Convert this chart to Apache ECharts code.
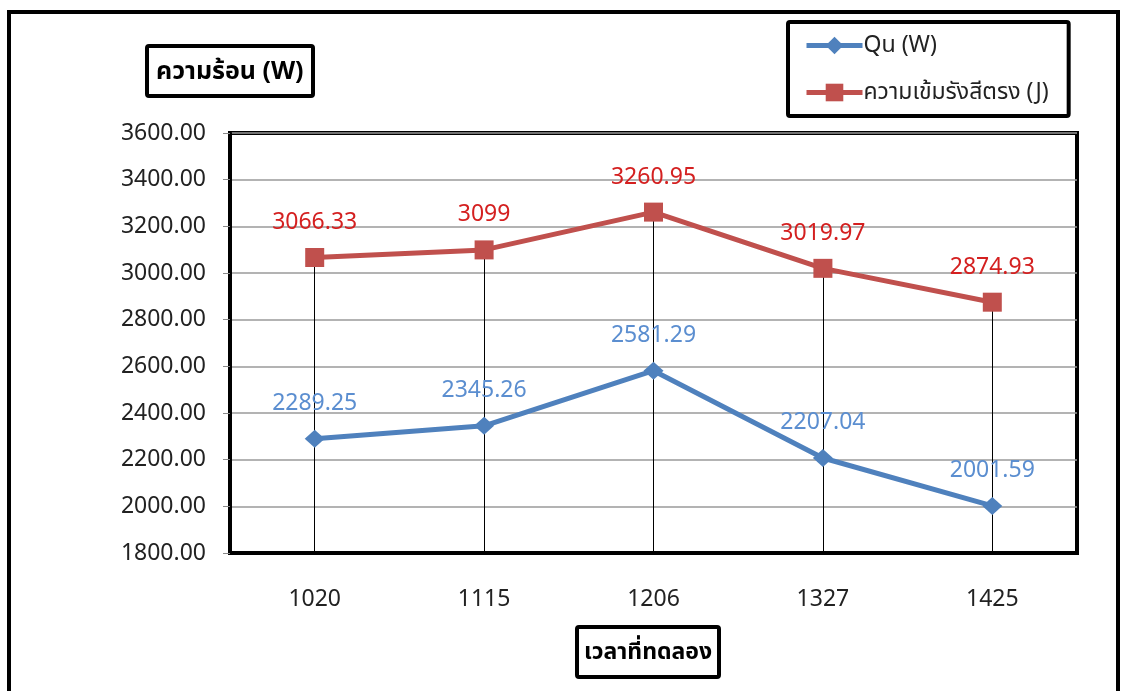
<!DOCTYPE html>
<html>
<head>
<meta charset="utf-8">
<script src="https://cdn.jsdelivr.net/npm/echarts@6/dist/echarts.min.js"></script>
<style>
  html, body { margin: 0; padding: 0; background: #fff; }
  #chart { width: 1121px; height: 691px; }
</style>
</head>
<body>
<div id="chart"></div>
<script>
// Measurement times (x categories)
const times = ['1020', '1115', '1206', '1327', '1425'];
// Useful heat gain Qu (W)
const quValues = [2289.25, 2345.26, 2581.29, 2207.04, 2001.59];
// Direct radiation intensity (J)
const radValues = [3066.33, 3099, 3260.95, 3019.97, 2874.93];
// Y axis range
const yMin = 1800, yMax = 3600, yStep = 200;

const quName = 'Qu (W)';
const radName = 'ความเข้มรังสีตรง (J)';
const yTitle = 'ความร้อน (W)';
const xTitle = 'เวลาที่ทดลอง';

const FONT = "'Noto Sans', 'Noto Sans Thai', 'DejaVu Sans', sans-serif";

const chart = echarts.init(document.getElementById('chart'), null, { renderer: 'canvas' });

// Drop lines from each upper point down to the axis floor
const dropLines = radValues.map((v, i) => [
  { coord: [i, v] },
  { coord: [i, yMin] }
]);

chart.setOption({
  backgroundColor: '#fff',
  animation: false,
  textStyle: { fontFamily: FONT },
  graphic: [
    {
      type: 'rect',
      shape: { x: 9, y: 12, width: 1109, height: 700 },
      style: { fill: 'none', stroke: '#000', lineWidth: 4 },
      z: 0
    }
  ],
  title: [
    {
      text: yTitle,
      left: 147, top: 46,
      padding: [13, 10, 12, 9],
      borderColor: '#000', borderWidth: 4, borderRadius: 2,
      textStyle: { fontFamily: FONT, fontSize: 25, fontWeight: 'bold', color: '#000' }
    },
    {
      text: xTitle,
      left: 577, top: 627,
      padding: [14, 7, 13, 7],
      borderColor: '#000', borderWidth: 4, borderRadius: 2,
      textStyle: { fontFamily: FONT, fontSize: 23, fontWeight: 'bold', color: '#000' }
    }
  ],
  legend: {
    orient: 'vertical',
    left: 788, top: 22,
    padding: [12, 20, 12, 16],
    itemGap: 24,
    itemWidth: 56, itemHeight: 22,
    borderColor: '#000', borderWidth: 4, borderRadius: 2,
    lineStyle: { width: 5 },
    textStyle: { fontFamily: FONT, fontSize: 23, color: '#222', padding: [0, 0, 0, -4] },
    data: [quName, radName]
  },
  grid: {
    left: 230, top: 133, right: 44, bottom: 138,
    show: true, borderColor: '#000', borderWidth: 4,
    containLabel: false
  },
  xAxis: {
    type: 'category',
    data: times,
    boundaryGap: true,
    axisLine: { show: true, lineStyle: { color: '#000', width: 4 } },
    axisTick: { show: false },
    axisLabel: { margin: 35, fontFamily: FONT, fontSize: 23, color: '#222' },
    splitLine: { show: false }
  },
  yAxis: {
    type: 'value',
    min: yMin, max: yMax, interval: yStep,
    axisLine: { show: true, lineStyle: { color: '#000', width: 4 } },
    axisTick: { show: true, length: 7, lineStyle: { color: '#888', width: 1 } },
    axisLabel: {
      margin: 24, fontFamily: FONT, fontSize: 23, color: '#222',
      formatter: v => v.toFixed(2)
    },
    splitLine: { show: true, lineStyle: { color: '#9a9a9a', width: 1.5 } }
  },
  series: [
    {
      name: quName,
      type: 'line',
      data: quValues,
      symbol: 'diamond',
      symbolSize: [20, 18],
      lineStyle: { color: '#4F81BD', width: 5 },
      itemStyle: { color: '#4F81BD' },
      label: {
        show: true, position: 'top', distance: 15,
        fontFamily: FONT, fontSize: 23, color: '#5B8ED0',
        formatter: p => String(p.value)
      },
      z: 3
    },
    {
      name: radName,
      type: 'line',
      data: radValues,
      symbol: 'rect',
      symbolSize: 19,
      lineStyle: { color: '#C0504D', width: 5 },
      itemStyle: { color: '#C0504D' },
      label: {
        show: true, position: 'top', distance: 14,
        fontFamily: FONT, fontSize: 23, color: '#D42020',
        formatter: p => String(p.value)
      },
      markLine: {
        silent: true,
        symbol: ['none', 'none'],
        label: { show: false },
        lineStyle: { color: '#000', width: 1, type: 'solid' },
        data: dropLines,
        z: 1
      },
      z: 3
    }
  ]
});
</script>
</body>
</html>
